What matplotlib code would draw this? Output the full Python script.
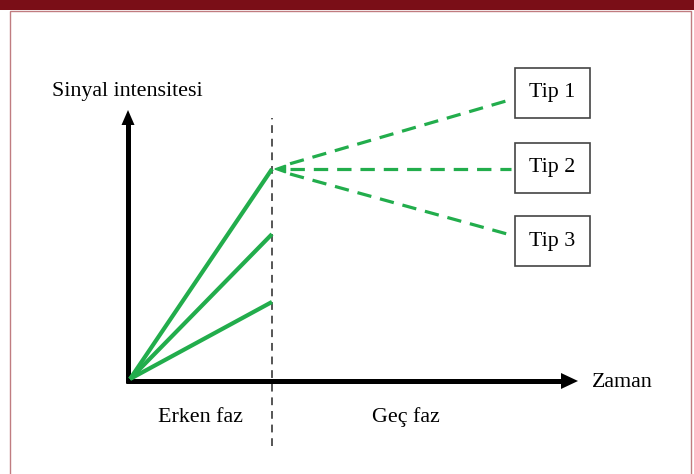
import matplotlib
matplotlib.use("Agg")
import matplotlib.pyplot as plt
from matplotlib.patches import Rectangle, Polygon
import numpy as np

# ---- data (time in phase units, signal in relative units) ----
phase_split = 1.0                      # end of early phase
early_end = [1.0, 0.69, 0.367]         # signal at end of early phase
late_start = 1.0                       # junction signal
late_time = 2.68                       # where late-phase lines end
late_end = [1.33, 1.0, 0.686]          # signal at end of late phase
tip_labels = ["Tip 1", "Tip 2", "Tip 3"]
box_centers = [1.362, 1.005, 0.657]
y_label = "Sinyal intensitesi"
x_label = "Zaman"
phase_labels = ["Erken faz", "Geç faz"]
phase_label_x = [0.5, 1.944]

GREEN = "#22ad4c"
plt.rcParams['font.family'] = ['Liberation Serif', 'DejaVu Serif']
FS = 15.8
PX_T, PX_S = 142.0, 210.0   # pixels per data unit

fig = plt.figure(figsize=(6.94, 4.74), dpi=100)
fig.patch.set_facecolor("white")
# header bar and frame
fig.add_artist(Rectangle((0, 1 - 10 / 474), 1, 10 / 474, transform=fig.transFigure,
                         facecolor="#7a0e17", edgecolor="none"))
fig.add_artist(Rectangle((9.5 / 694, -0.01), (690.5 - 9.5) / 694, (474 - 11) / 474 + 0.01,
                         transform=fig.transFigure, facecolor="none",
                         edgecolor="#c07c80", lw=1.0))

ax = fig.add_axes([0, 0, 1, 1])
ax.set_xlim(-130 / PX_T, (694 - 130) / PX_T)
ax.set_ylim((379 - 474) / PX_S, 379 / PX_S)
ax.axis("off")

# axes with arrowheads
ox, oy = -0.014, -0.0095
ytip, xtip = 1.281, 3.155
ax.plot([ox, ox], [oy - 2.5 / PX_S, ytip - 12 / PX_S], color="black", lw=3.6,
        solid_capstyle="butt", zorder=2)
ax.plot([ox - 2.5 / PX_T, xtip - 15 / PX_T], [oy, oy], color="black", lw=3.6,
        solid_capstyle="butt", zorder=2)
ax.add_patch(Polygon([[ox, ytip], [ox - 6.5 / PX_T, ytip - 15 / PX_S],
                      [ox + 6.5 / PX_T, ytip - 15 / PX_S]], closed=True,
                     facecolor="black", edgecolor="none", zorder=2))
ax.add_patch(Polygon([[xtip, oy], [xtip - 17 / PX_T, oy + 8 / PX_S],
                      [xtip - 17 / PX_T, oy - 8 / PX_S]], closed=True,
                     facecolor="black", edgecolor="none", zorder=2))

# phase separator
ax.plot([phase_split, phase_split], [-0.319, 1.243], color="#555555", lw=1.4,
        dashes=(4, 3), zorder=1)

# early phase lines
for v in early_end:
    ax.plot([0, phase_split], [0, v], color=GREEN, lw=3.0, solid_capstyle="butt",
            zorder=3)

# late phase dashed lines
t0 = phase_split + 0.127
for v in late_end:
    s0 = late_start + (v - late_start) * (t0 - phase_split) / (late_time - phase_split)
    ax.plot([t0, late_time], [s0, v], color=GREEN, lw=2.3, dashes=(4.5, 2.8),
            dash_capstyle="butt", zorder=3)

# small arrowhead at junction
tri = Polygon([[phase_split + 0.02, late_start],
               [phase_split + 0.095, late_start + 0.018],
               [phase_split + 0.095, late_start - 0.018]],
              closed=True, facecolor=GREEN, edgecolor=GREEN, zorder=4)
ax.add_patch(tri)

# boxes
bx0, bw, bh = (515 - 130) / PX_T, 75 / PX_T, 50 / PX_S
for lab, cy in zip(tip_labels, box_centers):
    ax.add_patch(Rectangle((bx0, cy - bh / 2), bw, bh, facecolor="white",
                           edgecolor="#444444", lw=1.2, zorder=5))
    ax.text(bx0 + bw / 2, cy, lab, ha="center", va="center", fontsize=FS,
            zorder=6)

# labels
ax.text(-0.018, 1.367, y_label, ha="center", va="center", fontsize=FS)
ax.text(3.254, -0.019, x_label, ha="left", va="center", fontsize=FS)
for lab, x in zip(phase_labels, phase_label_x):
    ax.text(x, -0.181, lab, ha="center", va="center", fontsize=FS)

fig.savefig("out.png", dpi=100, facecolor="white")
